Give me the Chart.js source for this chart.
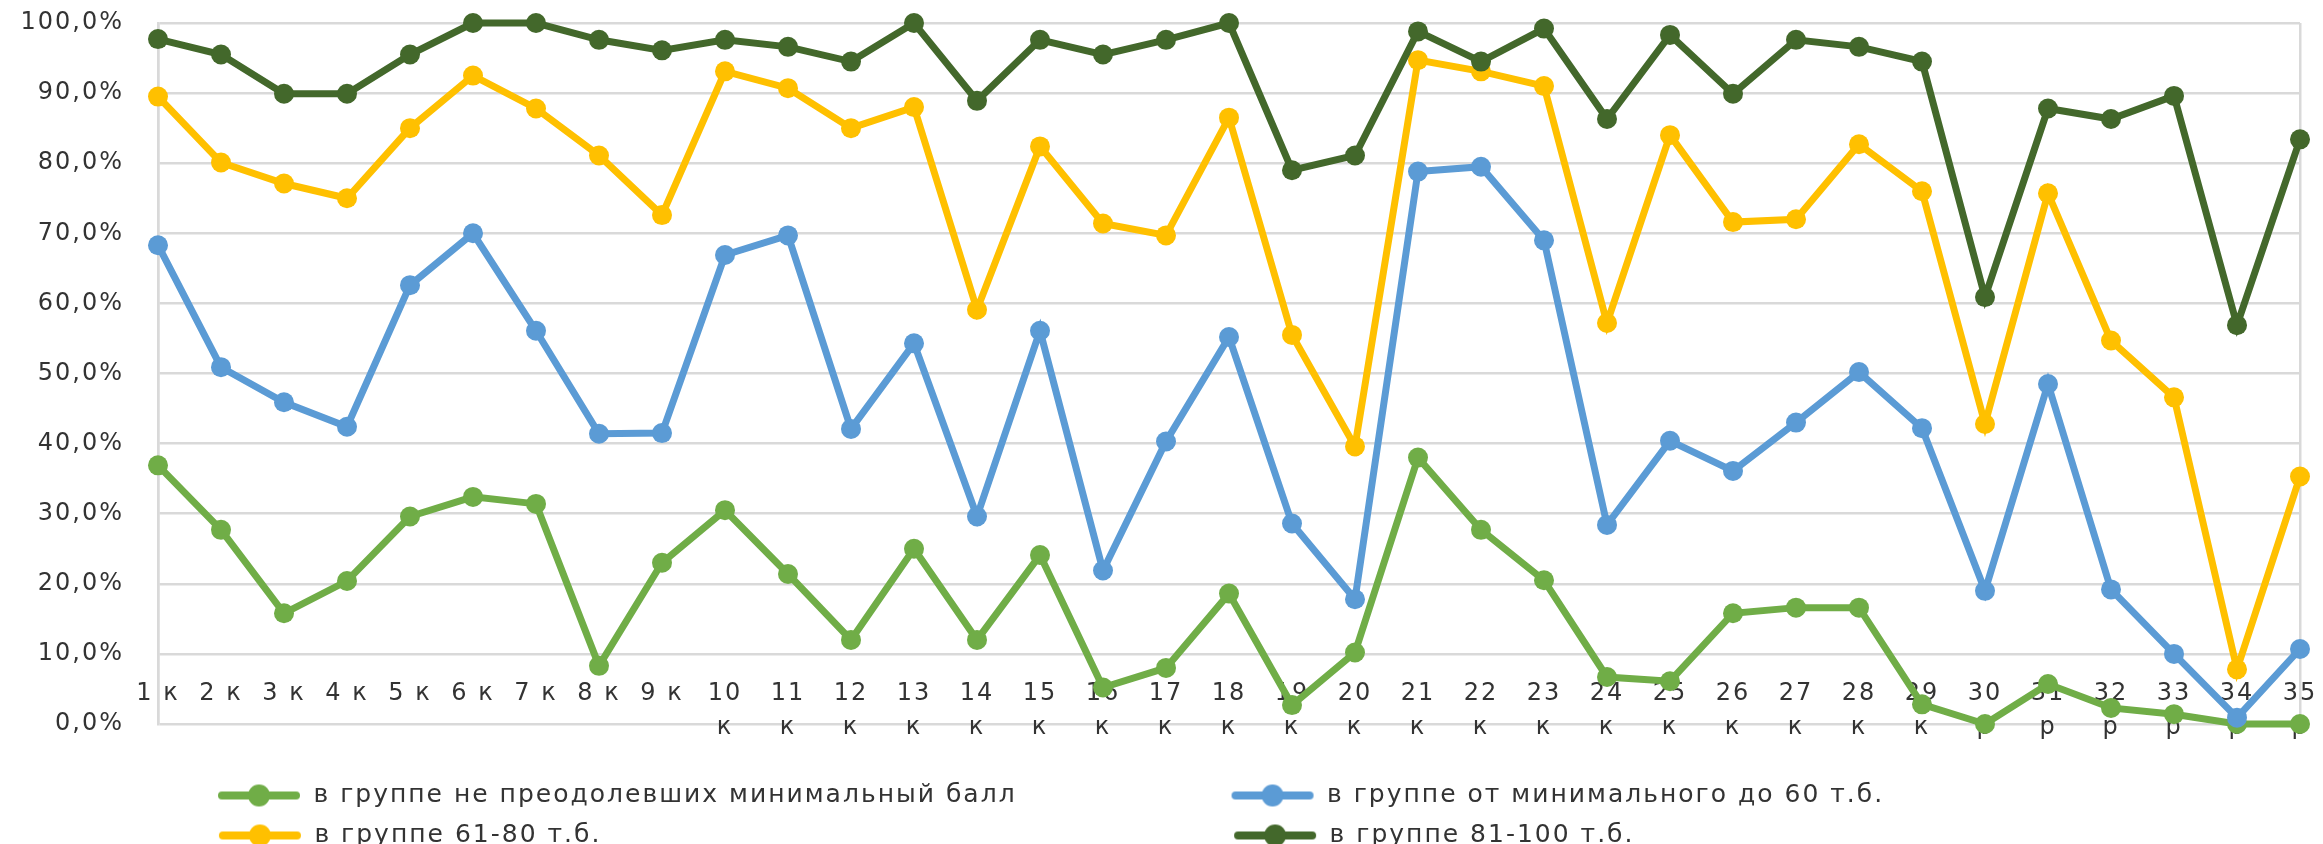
<!DOCTYPE html>
<html>
<head>
<meta charset="utf-8">
<script src="https://cdn.jsdelivr.net/npm/chart.js@4.4.0/dist/chart.umd.min.js"></script>
<style>
  html, body { margin: 0; padding: 0; background: #fff; overflow: hidden; }
  #wrap { position: relative; width: 2323px; height: 858px; }
</style>
</head>
<body>
<div id="wrap"><canvas id="myChart"></canvas></div>
<script>
// categories (school number + type)
const categories = [
  '1 к', '2 к', '3 к', '4 к', '5 к', '6 к', '7 к', '8 к', '9 к',
  ['10', 'к'], ['11', 'к'], ['12', 'к'], ['13', 'к'], ['14', 'к'], ['15', 'к'],
  ['16', 'к'], ['17', 'к'], ['18', 'к'], ['19', 'к'], ['20', 'к'], ['21', 'к'],
  ['22', 'к'], ['23', 'к'], ['24', 'к'], ['25', 'к'], ['26', 'к'], ['27', 'к'],
  ['28', 'к'], ['29', 'к'], ['30', 'р'], ['31', 'р'], ['32', 'р'], ['33', 'р'],
  ['34', 'р'], ['35', 'р']
];

const seriesNames = [
  'в группе не преодолевших минимальный балл',
  'в группе от минимального до 60 т.б.',
  'в группе 61-80 т.б.',
  'в группе 81-100 т.б.'
];

const belowMin = [36.9, 27.7, 15.8, 20.4, 29.6, 32.4, 31.4, 8.3, 23.0, 30.5, 21.4, 12.0, 25.0, 12.0, 24.1, 5.2, 8.0, 18.6, 2.7, 10.2, 38.0, 27.7, 20.5, 6.7, 6.1, 15.8, 16.6, 16.6, 2.8, 0, 5.7, 2.3, 1.4, 0, 0];
const minTo60 = [68.3, 50.9, 45.9, 42.4, 62.6, 70.0, 56.1, 41.4, 41.5, 66.9, 69.7, 42.1, 54.3, 29.6, 56.1, 21.9, 40.3, 55.2, 28.6, 17.8, 78.8, 79.5, 69.0, 28.4, 40.4, 36.1, 43.0, 50.2, 42.2, 19.0, 48.5, 19.2, 10.0, 0.9, 10.7];
const from61to80 = [89.5, 80.1, 77.1, 75.0, 85.0, 92.5, 87.8, 81.1, 72.6, 93.1, 90.7, 85.0, 88.0, 59.1, 82.4, 71.4, 69.7, 86.5, 55.5, 39.6, 94.7, 93.1, 91.0, 57.2, 84.0, 71.6, 72.0, 82.7, 76.0, 42.8, 75.7, 54.7, 46.6, 7.8, 35.3];
const from81to100 = [97.7, 95.5, 89.9, 89.9, 95.5, 100, 100, 97.6, 96.1, 97.6, 96.6, 94.5, 100, 88.9, 97.6, 95.5, 97.6, 100, 79.0, 81.1, 98.8, 94.5, 99.2, 86.3, 98.3, 89.9, 97.6, 96.6, 94.5, 60.9, 87.8, 86.3, 89.6, 56.9, 83.4];

const colors = ['#70ad47', '#5b9bd5', '#ffc000', '#43682b'];
const FONT = 'DejaVu Sans';
const FSIZE = 24;
const LEGEND_SIZE = 25;
const SPACING = '2px';
const gridColor = '#d9d9d9';
const textColor = '#333333';

// line + dot marker for the legend, like Excel
function legendMarker(color) {
  const c = document.createElement('canvas');
  c.width = 84; c.height = 24;
  const g = c.getContext('2d');
  g.strokeStyle = color;
  g.lineWidth = 8;
  g.lineCap = 'round';
  g.beginPath(); g.moveTo(5, 12); g.lineTo(79, 12); g.stroke();
  g.fillStyle = color;
  g.beginPath(); g.arc(42, 12, 11, 0, Math.PI * 2); g.fill();
  return c;
}

// pad legend texts with spaces so both rows line up in two columns
const measure = document.createElement('canvas').getContext('2d');
measure.font = LEGEND_SIZE + 'px "' + FONT + '"';
measure.letterSpacing = SPACING;
function padTo(text, target) {
  let s = text;
  while (Math.abs(measure.measureText(s + ' ').width - target) < Math.abs(measure.measureText(s).width - target)) s += ' ';
  return s;
}
const colWidths = [904, 756, 904, 756];

// wider letter spacing, the original text is stretched
const spacingPlugin = {
  id: 'spacing',
  beforeUpdate(chart) { chart.ctx.letterSpacing = SPACING; },
  beforeDraw(chart) { chart.ctx.letterSpacing = SPACING; }
};

// category labels sit just above the 0% line, as in the original
const xLabels = {
  id: 'xLabels',
  beforeDatasetsDraw(chart) {
    const g = chart.ctx;
    const xs = chart.scales.x;
    const bottom = chart.chartArea.bottom;
    g.save();
    g.font = FSIZE + 'px "' + FONT + '"';
    g.fillStyle = textColor;
    g.textAlign = 'center';
    g.textBaseline = 'middle';
    categories.forEach((lab, i) => {
      const x = xs.getPixelForValue(i);
      const lines = Array.isArray(lab) ? lab : [lab];
      lines.forEach((t, k) => g.fillText(t, x, bottom - 30 + k * 34));
    });
    g.restore();
  }
};

const datasets = [belowMin, minTo60, from61to80, from81to100].map((vals, i) => ({
  label: seriesNames[i],
  data: vals,
  borderColor: colors[i],
  backgroundColor: colors[i],
  borderWidth: 7,
  pointRadius: 10,
  pointHoverRadius: 10,
  pointBorderWidth: 0,
  pointBackgroundColor: colors[i],
  tension: 0,
  clip: false,
  order: 4 - i
}));

const ctx = document.getElementById('myChart').getContext('2d');
const chart = new Chart(ctx, {
  type: 'line',
  data: { labels: categories, datasets: datasets },
  plugins: [spacingPlugin, xLabels],
  options: {
    responsive: true,
    maintainAspectRatio: false,
    animation: false,
    layout: { padding: { top: 23, right: 23, left: 0, bottom: 0 } },
    scales: {
      x: {
        offset: false,
        grid: {
          display: true,
          drawTicks: false,
          lineWidth: 2.5,
          color: c => (c.index === 0 || c.index === categories.length - 1) ? gridColor : 'rgba(0,0,0,0)'
        },
        border: { display: false },
        ticks: { display: false }
      },
      y: {
        min: 0,
        max: 100,
        afterFit: scale => {
          scale.width = 158;
          scale.paddingTop = 0;
          scale.paddingBottom = 0;
        },
        grid: { drawTicks: false, color: gridColor, lineWidth: 2.5 },
        border: { display: true, color: gridColor, width: 2.5 },
        ticks: {
          stepSize: 10,
          padding: 34,
          color: textColor,
          font: { family: FONT, size: FSIZE, lineHeight: 1 },
          callback: v => v.toFixed(1).replace('.', ',') + '%'
        }
      }
    },
    plugins: {
      legend: {
        position: 'bottom',
        title: { display: true, text: '', font: { size: 24, lineHeight: 1.0 }, padding: { top: 10, bottom: 10 } },
        labels: {
          usePointStyle: true,
          pointStyleWidth: 84,
          padding: 15,
          color: textColor,
          font: { family: FONT, size: LEGEND_SIZE },
          generateLabels: ch => ch.data.datasets.map((ds, i) => ({
            text: padTo(ds.label, colWidths[i]),
            fillStyle: ds.borderColor,
            strokeStyle: ds.borderColor,
            lineWidth: 0,
            pointStyle: legendMarker(ds.borderColor),
            fontColor: textColor,
            hidden: false,
            datasetIndex: i
          }))
        }
      },
      tooltip: { enabled: false }
    }
  }
});
</script>
</body>
</html>
